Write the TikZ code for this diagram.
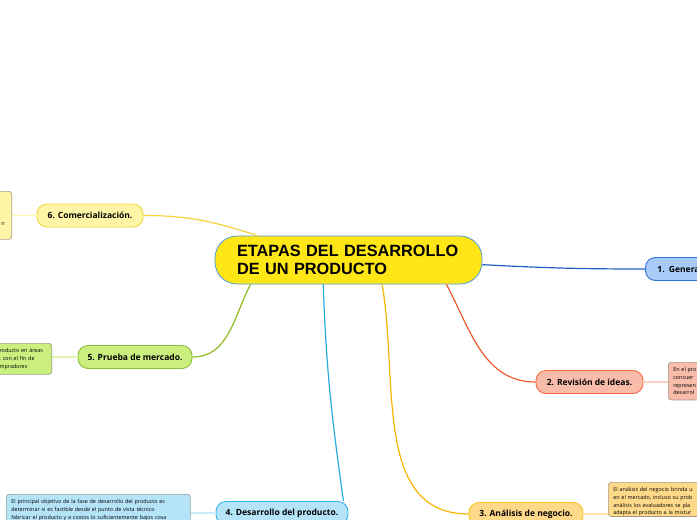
\documentclass[tikz,border=0pt]{standalone}
\usepackage{fontspec}
\setmainfont{Liberation Sans}
\newfontfamily\mapfont{Open Sans}
\definecolor{troncofill}{HTML}{FFE617}
\definecolor{troncobor}{HTML}{4D9BD6}
\definecolor{lin1}{HTML}{1E5FC4}\definecolor{rel1}{HTML}{A8CBF8}\definecolor{bor1}{HTML}{2F74D5}
\definecolor{lin2}{HTML}{EF5A28}\definecolor{rel2}{HTML}{F9BCAA}\definecolor{bor2}{HTML}{F26B3E}
\definecolor{lin3}{HTML}{F7B500}\definecolor{rel3}{HTML}{FFD98A}\definecolor{bor3}{HTML}{FFC21C}
\definecolor{lin4}{HTML}{29ABE2}\definecolor{rel4}{HTML}{B5E4F9}\definecolor{bor4}{HTML}{36B2EE}
\definecolor{lin5}{HTML}{8DBB25}\definecolor{rel5}{HTML}{CBEF7F}\definecolor{bor5}{HTML}{8DC03A}
\definecolor{lin6}{HTML}{F2D33B}\definecolor{rel6}{HTML}{FFF5A6}\definecolor{bor6}{HTML}{F1D53D}
\tikzset{
  tronco/.style={draw=troncobor, fill=troncofill, line width=0.8pt, rounded corners=22pt,
    minimum width=267pt, minimum height=48pt, inner xsep=22pt, text width=223pt, align=left,
    font=\bfseries\fontsize{16.3}{18}\selectfont},
  rama/.style={line width=0.9pt, rounded corners=10pt, minimum height=23pt, inner xsep=8pt,
    font=\mapfont\bfseries\fontsize{8.5}{10}\selectfont},
  nota/.style={draw=#1!30!gray, fill=#1, line width=0.7pt, rounded corners=3pt, inner xsep=5pt,
    inner ysep=5pt, align=left, font=\mapfont\fontsize{5.4}{7.8}\selectfont},
  hilo/.style={line width=1.2pt},
  enlace/.style={line width=1.6pt},
}
\begin{document}
\begin{tikzpicture}[x=1pt,y=-1pt]
\path[use as bounding box, clip] (0,0) rectangle (697,520);
% tronco
\node (centro) [tronco] at (348.5,260) {ETAPAS DEL DESARROLLO\\DE UN PRODUCTO};
% ramas
\node (gen) [rama, draw=bor1, fill=rel1, anchor=west, inner xsep=12pt, text width=60pt, align=left] at (645,269) {1. Genera};
\node (rev) [rama, draw=bor2, fill=rel2, minimum width=107pt] at (589.5,382) {2. Revisión de ideas.};
\node (ana) [rama, draw=bor3, fill=rel3, minimum width=114pt] at (526,514) {3. Análisis de negocio.};
\node (des) [rama, draw=bor4, fill=rel4, minimum width=132pt] at (282,513) {4. Desarrollo del producto.};
\node (pru) [rama, draw=bor5, fill=rel5, minimum width=114pt] at (135,357) {5. Prueba de mercado.};
\node (com) [rama, draw=bor6, fill=rel6, minimum width=106pt] at (90,215.5) {6. Comercialización.};
% notas
\node (nota2) [nota=rel2, anchor=north west, text width=60pt] at (668,362) {En el pro\\concuer\\represen\\desarrol};
\node (nota3) [nota=rel3, anchor=north west, text width=110pt, text depth=20pt] at (608,482) {El análisis del negocio brinda u\\en el mercado, incluso su prob\\análisis los evaluadores se pla\\adapta el producto a la mixtur};
\node (nota4) [nota=rel4, anchor=north west, text width=174pt, text depth=20pt] at (6,494) {El principal objetivo de la fase de desarrollo del producto es\\determinar si es factible desde el punto de vista técnico\\fabricar el producto y a costos lo suficientemente bajos cosa};
\node (nota5) [nota=rel5, anchor=north east, text width=47pt] at (52,343) {roducto en áreas\\, con el fin de\\mpradores};
\node (nota6) [nota=rel6, anchor=north east, minimum width=50pt, minimum height=48pt] at (12,191) {};
\node (nota6txt) [font=\mapfont\fontsize{5.4}{7.8}\selectfont, anchor=east, inner sep=0pt] at ([xshift=-7pt,yshift=-9pt]nota6.east) {n};
% hilos
\draw[hilo, lin1] (centro.-2) to[out=-3,in=180] (gen.west);
\draw[hilo, lin2] (centro.-14) to[out=-62,in=180] (rev.west);
\draw[hilo, lin3] (centro.-36) to[out=-80,in=180] (ana.west);
\draw[hilo, lin4] (centro.-136) to[out=-88,in=98] ([xshift=-5pt]des.north east);
\draw[hilo, lin5] (pru.east) to[out=0,in=-118] (centro.-166);
\draw[hilo, lin6] (com.east) to[out=0,in=162] (centro.165);
% enlaces
\draw[enlace, rel2!70] (rev.east) -- (rev.east -| nota2.west);
\draw[enlace, rel3!70] (ana.east) -- (ana.east -| nota3.west);
\draw[enlace, rel4!70] (des.west) -- (des.west -| nota4.east);
\draw[enlace, rel5!60] (pru.west) -- (pru.west -| nota5.east);
\draw[enlace, rel6] (com.west) -- (com.west -| nota6.east);
\end{tikzpicture}
\end{document}
